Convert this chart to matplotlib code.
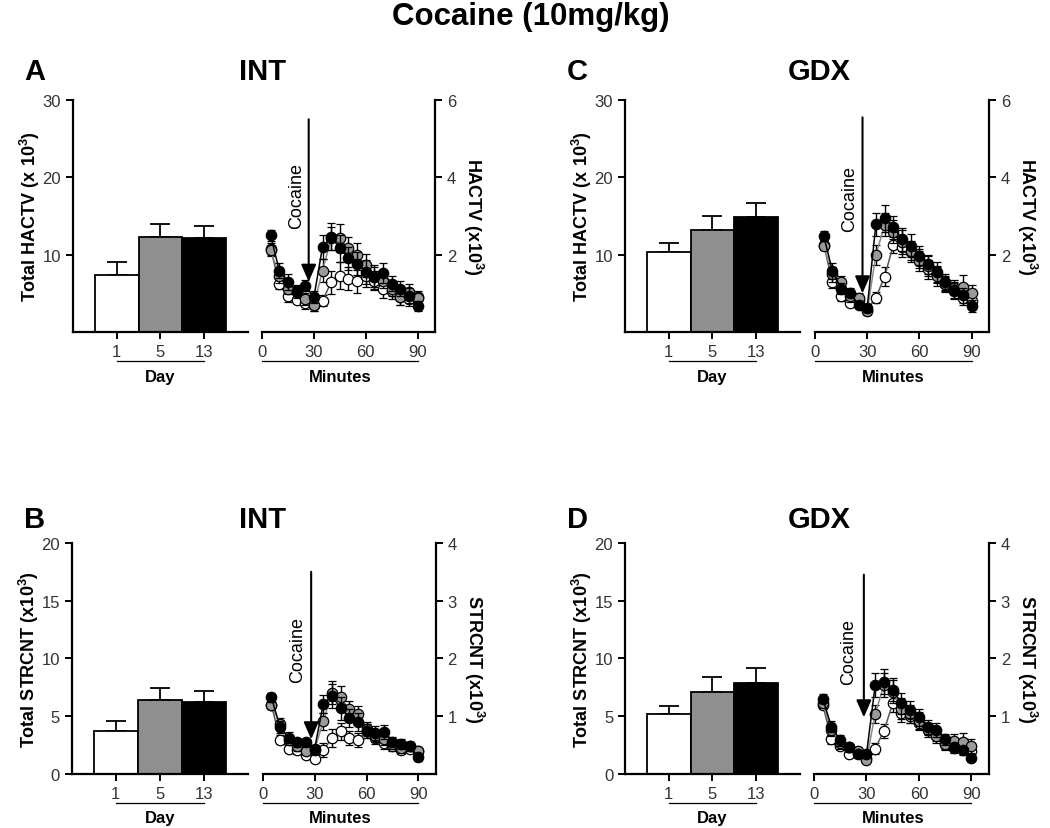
import matplotlib.pyplot as plt

plt.rcParams['font.family'] = ['Liberation Sans', 'DejaVu Sans']
plt.rcParams['mathtext.fontset'] = 'custom'
plt.rcParams['mathtext.rm'] = 'Liberation Sans'
plt.rcParams['mathtext.bf'] = 'Liberation Sans:bold'

# ---------------- data ----------------
minutes = [5, 10, 15, 20, 25, 30, 35, 40, 45, 50, 55, 60, 65, 70, 75, 80, 85, 90]
days = ["1", "5", "13"]

# A: INT, horizontal activity
int_hactv_total = [7.4, 12.3, 12.1]
int_hactv_total_err = [1.6, 1.6, 1.6]
int_hactv_d1 = [2.15, 1.25, 0.93, 0.84, 0.75, 0.70, 0.81, 1.29, 1.45, 1.38, 1.31, 1.46, 1.33, 1.12, 1.05, 0.90, 0.86, 0.90]
int_hactv_d5 = [2.11, 1.46, 1.12, 1.03, 0.86, 0.70, 1.59, 2.42, 2.43, 2.16, 2.00, 1.72, 1.42, 1.33, 1.12, 0.90, 1.03, 0.87]
int_hactv_d13 = [2.50, 1.59, 1.29, 1.07, 1.20, 0.90, 2.20, 2.46, 2.16, 1.91, 1.77, 1.55, 1.42, 1.53, 1.25, 1.12, 0.94, 0.67]
int_hactv_d1_err = [0.15, 0.15, 0.15, 0.10, 0.15, 0.15, 0.15, 0.30, 0.35, 0.30, 0.30, 0.30, 0.25, 0.25, 0.20, 0.20, 0.20, 0.15]
int_hactv_d5_err = [0.15, 0.20, 0.15, 0.15, 0.15, 0.15, 0.30, 0.30, 0.35, 0.30, 0.30, 0.30, 0.25, 0.20, 0.20, 0.20, 0.20, 0.15]
int_hactv_d13_err = [0.15, 0.20, 0.20, 0.15, 0.15, 0.15, 0.30, 0.35, 0.35, 0.30, 0.30, 0.30, 0.30, 0.25, 0.20, 0.20, 0.20, 0.12]

# C: GDX, horizontal activity
gdx_hactv_total = [10.3, 13.2, 14.9]
gdx_hactv_total_err = [1.2, 1.8, 1.8]
gdx_hactv_d1 = [2.26, 1.29, 0.93, 0.76, 0.84, 0.58, 0.89, 1.43, 2.25, 2.19, 2.06, 1.90, 1.62, 1.47, 1.25, 1.06, 0.89, 0.80]
gdx_hactv_d5 = [2.23, 1.49, 1.29, 0.93, 0.89, 0.54, 1.99, 2.77, 2.59, 2.33, 2.10, 1.84, 1.71, 1.45, 1.23, 1.15, 1.17, 1.02]
gdx_hactv_d13 = [2.49, 1.58, 1.12, 1.02, 0.71, 0.63, 2.79, 2.94, 2.71, 2.40, 2.23, 1.97, 1.75, 1.55, 1.29, 1.09, 0.95, 0.67]
gdx_hactv_d1_err = [0.12, 0.15, 0.12, 0.10, 0.10, 0.10, 0.15, 0.25, 0.20, 0.25, 0.25, 0.25, 0.25, 0.20, 0.20, 0.20, 0.20, 0.15]
gdx_hactv_d5_err = [0.12, 0.20, 0.15, 0.15, 0.12, 0.10, 0.25, 0.30, 0.30, 0.30, 0.25, 0.25, 0.25, 0.25, 0.20, 0.20, 0.30, 0.20]
gdx_hactv_d13_err = [0.12, 0.20, 0.15, 0.12, 0.10, 0.10, 0.30, 0.35, 0.30, 0.30, 0.30, 0.25, 0.25, 0.25, 0.20, 0.20, 0.20, 0.15]

# B: INT, stereotypy counts
int_strcnt_total = [3.7, 6.4, 6.2]
int_strcnt_total_err = [0.9, 1.0, 0.95]
int_strcnt_d1 = [1.20, 0.59, 0.44, 0.41, 0.33, 0.26, 0.41, 0.62, 0.74, 0.62, 0.59, 0.75, 0.63, 0.53, 0.48, 0.42, 0.44, 0.39]
int_strcnt_d5 = [1.20, 0.87, 0.58, 0.48, 0.39, 0.42, 0.91, 1.41, 1.33, 1.12, 1.03, 0.78, 0.65, 0.60, 0.51, 0.45, 0.48, 0.39]
int_strcnt_d13 = [1.33, 0.81, 0.63, 0.55, 0.55, 0.44, 1.21, 1.35, 1.14, 0.97, 0.90, 0.74, 0.71, 0.73, 0.56, 0.52, 0.48, 0.29]
int_strcnt_d1_err = [0.08, 0.08, 0.08, 0.06, 0.06, 0.06, 0.12, 0.15, 0.15, 0.12, 0.12, 0.12, 0.12, 0.10, 0.08, 0.08, 0.08, 0.06]
int_strcnt_d5_err = [0.08, 0.10, 0.08, 0.08, 0.06, 0.06, 0.15, 0.20, 0.20, 0.15, 0.15, 0.12, 0.10, 0.10, 0.08, 0.08, 0.08, 0.06]
int_strcnt_d13_err = [0.08, 0.10, 0.10, 0.08, 0.06, 0.06, 0.15, 0.20, 0.20, 0.15, 0.15, 0.12, 0.12, 0.12, 0.08, 0.08, 0.08, 0.06]

# D: GDX, stereotypy counts
gdx_strcnt_total = [5.2, 7.1, 7.85]
gdx_strcnt_total_err = [0.65, 1.3, 1.3]
gdx_strcnt_d1 = [1.20, 0.60, 0.49, 0.35, 0.36, 0.28, 0.44, 0.75, 1.22, 1.05, 1.01, 0.88, 0.77, 0.67, 0.51, 0.45, 0.48, 0.40]
gdx_strcnt_d5 = [1.22, 0.76, 0.54, 0.46, 0.40, 0.25, 1.04, 1.54, 1.42, 1.13, 1.04, 0.92, 0.76, 0.66, 0.51, 0.57, 0.56, 0.49]
gdx_strcnt_d13 = [1.30, 0.82, 0.58, 0.46, 0.34, 0.34, 1.54, 1.60, 1.46, 1.22, 1.11, 0.98, 0.82, 0.76, 0.60, 0.46, 0.41, 0.28]
gdx_strcnt_d1_err = [0.08, 0.08, 0.06, 0.06, 0.06, 0.05, 0.10, 0.12, 0.15, 0.15, 0.12, 0.12, 0.10, 0.10, 0.08, 0.08, 0.08, 0.06]
gdx_strcnt_d5_err = [0.08, 0.10, 0.10, 0.08, 0.06, 0.05, 0.15, 0.20, 0.20, 0.18, 0.15, 0.15, 0.12, 0.12, 0.10, 0.12, 0.15, 0.12]
gdx_strcnt_d13_err = [0.08, 0.10, 0.10, 0.08, 0.06, 0.06, 0.20, 0.22, 0.20, 0.18, 0.15, 0.15, 0.12, 0.12, 0.10, 0.08, 0.08, 0.06]

bar_colors = ["white", "#8f8f8f", "black"]
marker_colors = ["white", "#9a9a9a", "black"]
line_colors = ["#555555", "#8a8a8a", "black"]
tick_color = "#333333"
SPINE_W = 1.6


def style_ticks(ax):
    ax.tick_params(direction="out", width=1.4, length=5, labelsize=12, labelcolor=tick_color)


def bar_panel(rect, totals, errs, ylim, yticks, ylabel):
    ax = fig.add_axes(rect)
    x = [1, 2, 3]
    ax.bar(x, totals, width=1.0, color=bar_colors, edgecolor="black", linewidth=1.3, zorder=2)
    ax.errorbar(x, totals, yerr=[[0, 0, 0], errs], fmt="none", ecolor="black",
                elinewidth=1.3, capsize=7.5, capthick=1.3, zorder=1)
    ax.set_xlim(0, 4)
    ax.set_ylim(*ylim)
    ax.set_yticks(yticks)
    ax.set_xticks(x)
    ax.set_xticklabels(days)
    for s in ["top", "right"]:
        ax.spines[s].set_visible(False)
    for s in ["left", "bottom"]:
        ax.spines[s].set_linewidth(SPINE_W)
    style_ticks(ax)
    ax.plot([1, 3], [-0.125, -0.125], color="black", lw=0.9,
            transform=ax.get_xaxis_transform(), clip_on=False)
    ax.text(2, -0.19, "Day", transform=ax.get_xaxis_transform(), ha="center", va="center",
            fontsize=12, fontweight="bold")
    ax.text(-0.245, 0.5, ylabel, transform=ax.transAxes, rotation=90, ha="center", va="center",
            fontsize=13, fontweight="bold")
    return ax


def time_panel(rect, series, series_err, ylim, yticks, rlabel, arrow, coc_y):
    ax = fig.add_axes(rect)
    for k in range(3):
        ax.errorbar(minutes, series[k], yerr=series_err[k], color=line_colors[k], lw=1.1,
                    marker="o", markersize=7.5, markerfacecolor=marker_colors[k],
                    markeredgecolor="black", markeredgewidth=0.9,
                    ecolor="black", elinewidth=1.0, capsize=3, capthick=1.0, zorder=3 + k)
    ax.set_xlim(0, 100)
    ax.set_ylim(*ylim)
    ax.set_xticks([0, 30, 60, 90])
    ax.set_yticks(yticks)
    ax.yaxis.tick_right()
    for s in ["top", "left"]:
        ax.spines[s].set_visible(False)
    for s in ["right", "bottom"]:
        ax.spines[s].set_linewidth(SPINE_W)
    style_ticks(ax)
    ax_x, top, tip = arrow
    ax.annotate("", xy=(ax_x, tip), xytext=(ax_x, top),
                arrowprops=dict(arrowstyle="-|>,head_length=0.8,head_width=0.35", color="black",
                                lw=1.5, mutation_scale=13, shrinkA=0, shrinkB=0), zorder=10)
    ax.text(20, coc_y, "Cocaine", rotation=90, ha="center", va="center", fontsize=13)
    ax.plot([0, 90], [-0.125, -0.125], color="black", lw=0.9,
            transform=ax.get_xaxis_transform(), clip_on=False)
    ax.text(45, -0.19, "Minutes", transform=ax.get_xaxis_transform(), ha="center", va="center",
            fontsize=12, fontweight="bold")
    ax.text(1.22, 0.5, rlabel, transform=ax.transAxes, rotation=270, ha="center", va="center",
            fontsize=13, fontweight="bold")
    return ax


fig = plt.figure(figsize=(10.5, 8.29), dpi=100)

top_b, top_h = 0.5983, 0.2799
bot_b, bot_h = 0.0652, 0.2787

hactv_total_lbl = r"Total HACTV (x 10$^{\mathbf{3}}$)"
hactv_lbl = r"HACTV (x10$^{\mathbf{3}}$)"
strcnt_total_lbl = r"Total STRCNT (x10$^{\mathbf{3}}$)"
strcnt_lbl = r"STRCNT (x10$^{\mathbf{3}}$)"

bar_panel([0.0695, top_b, 0.1667, top_h], int_hactv_total, int_hactv_total_err,
          (0, 30), [10, 20, 30], hactv_total_lbl)
time_panel([0.2495, top_b, 0.1648, top_h],
           [int_hactv_d1, int_hactv_d5, int_hactv_d13],
           [int_hactv_d1_err, int_hactv_d5_err, int_hactv_d13_err],
           (0, 6), [2, 4, 6], hactv_lbl, (27, 5.5, 1.3), 3.55)

bar_panel([0.5952, top_b, 0.1667, top_h], gdx_hactv_total, gdx_hactv_total_err,
          (0, 30), [10, 20, 30], hactv_total_lbl)
time_panel([0.7762, top_b, 0.1657, top_h],
           [gdx_hactv_d1, gdx_hactv_d5, gdx_hactv_d13],
           [gdx_hactv_d1_err, gdx_hactv_d5_err, gdx_hactv_d13_err],
           (0, 6), [2, 4, 6], hactv_lbl, (27.3, 5.55, 1.0), 3.47)

bar_panel([0.0683, bot_b, 0.1679, bot_h], int_strcnt_total, int_strcnt_total_err,
          (0, 20), [0, 5, 10, 15, 20], strcnt_total_lbl)
time_panel([0.2502, bot_b, 0.1648, bot_h],
           [int_strcnt_d1, int_strcnt_d5, int_strcnt_d13],
           [int_strcnt_d1_err, int_strcnt_d5_err, int_strcnt_d13_err],
           (0, 4), [1, 2, 3, 4], strcnt_lbl, (28, 3.5, 0.6), 2.17)

bar_panel([0.5952, bot_b, 0.1667, bot_h], gdx_strcnt_total, gdx_strcnt_total_err,
          (0, 20), [0, 5, 10, 15, 20], strcnt_total_lbl)
time_panel([0.7752, bot_b, 0.1667, bot_h],
           [gdx_strcnt_d1, gdx_strcnt_d5, gdx_strcnt_d13],
           [gdx_strcnt_d1_err, gdx_strcnt_d5_err, gdx_strcnt_d13_err],
           (0, 4), [1, 2, 3, 4], strcnt_lbl, (28.5, 3.45, 0.98), 2.12)

# titles and panel letters
fig.text(0.505, 0.98, "Cocaine (10mg/kg)", ha="center", va="center", fontsize=22.5, fontweight="bold")
for letter, sub, x0, xs, y in [("A", "INT", 0.033, 0.25, 0.913), ("C", "GDX", 0.55, 0.78, 0.913),
                               ("B", "INT", 0.033, 0.25, 0.373), ("D", "GDX", 0.55, 0.78, 0.373)]:
    fig.text(x0, y, letter, ha="center", va="center", fontsize=21, fontweight="bold")
    fig.text(xs, y, sub, ha="center", va="center", fontsize=21, fontweight="bold")

fig.savefig("out.png", dpi=100, facecolor="white")
